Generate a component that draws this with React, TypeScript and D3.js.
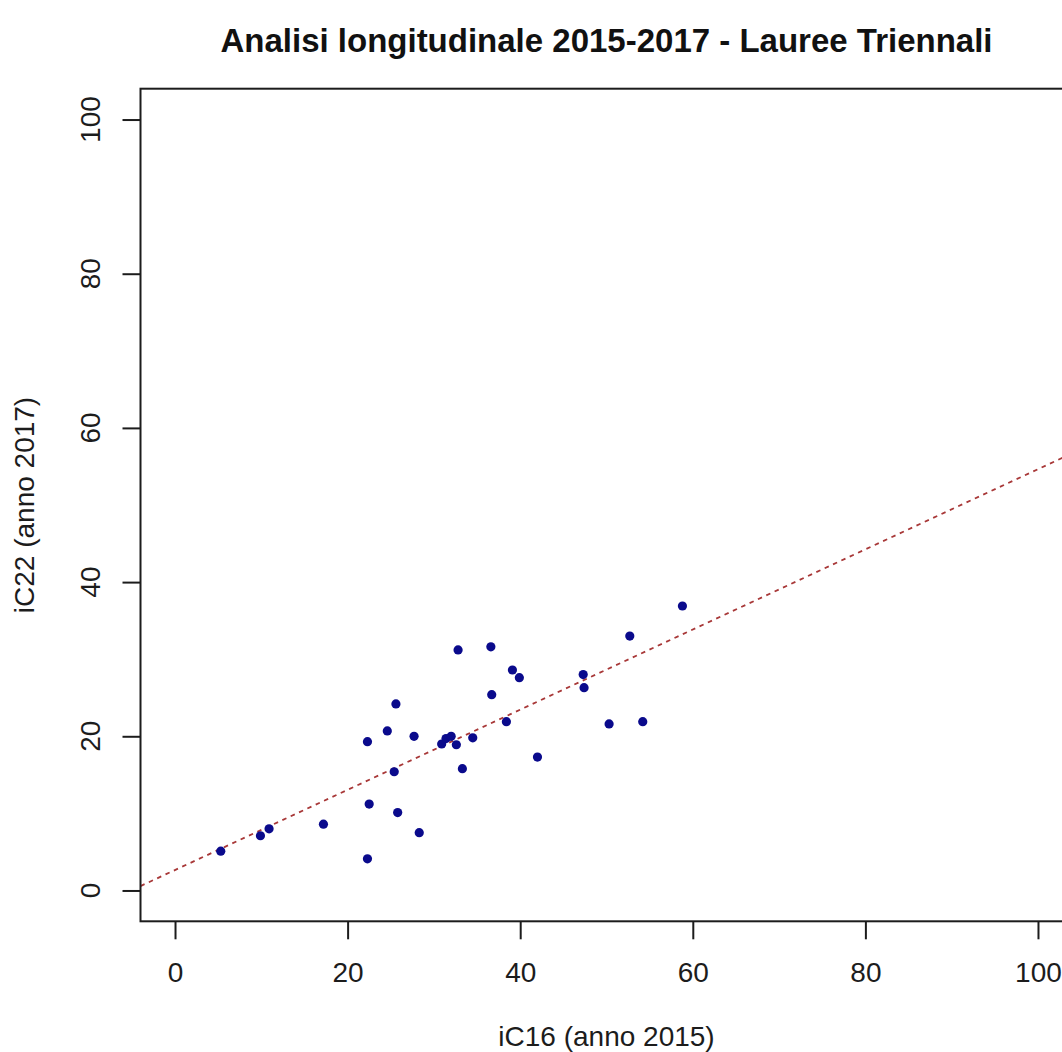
import React, { useEffect, useRef } from 'react';
import * as d3 from 'd3';

// values
const ic16 = [5.3, 9.9, 10.9, 17.2, 22.3, 22.5, 25.8, 28.3, 25.6, 24.6, 22.3, 27.7, 25.4, 30.9, 31.4, 32.0,
  32.6, 34.5, 33.3, 36.7, 32.8, 36.6, 39.1, 39.9, 38.4, 42.0, 58.8, 52.7, 47.3, 47.4, 50.3, 54.2];
const ic22 = [5.1, 7.1, 8.0, 8.6, 4.1, 11.2, 10.1, 7.5, 24.2, 20.7, 19.3, 20.0, 15.4, 19.0, 19.7, 20.0,
  18.9, 19.8, 15.8, 25.4, 31.2, 31.6, 28.6, 27.6, 21.9, 17.3, 36.9, 33.0, 28.0, 26.3, 21.6, 21.9];
const xTicks = [0, 20, 40, 60, 80, 100];
const yTicks = [0, 20, 40, 60, 80, 100];
// fitted line (abline)
const fitIntercept = 2.65;
const fitSlope = 0.52;

const title = 'Analisi longitudinale 2015-2017 - Lauree Triennali';
const xLabel = 'iC16 (anno 2015)';
const yLabel = 'iC22 (anno 2017)';

export default function App() {
  const chartRef = useRef<SVGSVGElement>(null);

  useEffect(() => {
    const svg = d3.select(chartRef.current);
    svg.selectAll('*').remove();

    const W = 1062, H = 1052;
    const box = { left: 140.5, right: 1072.5, top: 88.7, bottom: 921.3 };
    const font = '"Liberation Sans", Arial, sans-serif';
    const ink = '#1c1c1c';

    // R style: limits 0-100 widened by 4%
    const x = d3.scaleLinear().domain([-4, 104]).range([box.left, box.right]);
    const y = d3.scaleLinear().domain([-4, 104]).range([box.bottom, box.top]);

    svg.append('rect').attr('width', W).attr('height', H).attr('fill', '#fff');

    svg.append('clipPath').attr('id', 'plotclip')
      .append('rect')
      .attr('x', box.left).attr('y', box.top)
      .attr('width', box.right - box.left).attr('height', box.bottom - box.top);

    // regression line
    const fit = (v: number) => fitIntercept + fitSlope * v;
    svg.append('line')
      .attr('clip-path', 'url(#plotclip)')
      .attr('x1', x(-4)).attr('y1', y(fit(-4)))
      .attr('x2', x(104)).attr('y2', y(fit(104)))
      .attr('stroke', '#a83838')
      .attr('stroke-width', 1.8)
      .attr('stroke-dasharray', '4.5 4.7');

    // points
    svg.append('g')
      .selectAll('circle')
      .data(ic16.map((v, i) => [v, ic22[i]]))
      .join('circle')
      .attr('cx', d => x(d[0]))
      .attr('cy', d => y(d[1]))
      .attr('r', 4.6)
      .attr('fill', '#0a0a8c');

    // frame
    svg.append('rect')
      .attr('x', box.left).attr('y', box.top)
      .attr('width', box.right - box.left).attr('height', box.bottom - box.top)
      .attr('fill', 'none').attr('stroke', ink).attr('stroke-width', 2);

    // x axis
    const gx = svg.append('g')
      .attr('transform', `translate(0,${box.bottom})`)
      .call(d3.axisBottom(x).tickValues(xTicks).tickSize(18).tickPadding(23));
    gx.select('.domain').remove();
    gx.selectAll('line').attr('stroke', ink).attr('stroke-width', 2);
    gx.selectAll('text').attr('font-family', font).attr('font-size', 28).attr('fill', ink);

    // y axis, labels turned like R's las = 0
    const gy = svg.append('g')
      .attr('transform', `translate(${box.left},0)`)
      .call(d3.axisLeft(y).tickValues(yTicks).tickSize(18).tickFormat(() => ''));
    gy.select('.domain').remove();
    gy.selectAll('line').attr('stroke', ink).attr('stroke-width', 2);

    svg.append('g')
      .selectAll('text')
      .data(yTicks)
      .join('text')
      .attr('transform', d => `translate(100,${y(d)}) rotate(-90)`)
      .attr('text-anchor', 'middle')
      .attr('font-family', font).attr('font-size', 28).attr('fill', ink)
      .text(d => String(d));

    // titles
    svg.append('text')
      .attr('x', (box.left + box.right) / 2).attr('y', 52)
      .attr('text-anchor', 'middle')
      .attr('font-family', font).attr('font-size', 33).attr('font-weight', 'bold')
      .attr('fill', '#111')
      .text(title);

    svg.append('text')
      .attr('x', (box.left + box.right) / 2).attr('y', 1046)
      .attr('text-anchor', 'middle')
      .attr('font-family', font).attr('font-size', 28).attr('fill', ink)
      .text(xLabel);

    svg.append('text')
      .attr('transform', `translate(34,${(box.top + box.bottom) / 2}) rotate(-90)`)
      .attr('text-anchor', 'middle')
      .attr('font-family', font).attr('font-size', 28).attr('fill', ink)
      .text(yLabel);
  }, []);

  return (
    <svg
      ref={chartRef}
      width={1062}
      height={1052}
      style={{ position: 'absolute', left: 0, top: 0, display: 'block' }}
    />
  );
}
